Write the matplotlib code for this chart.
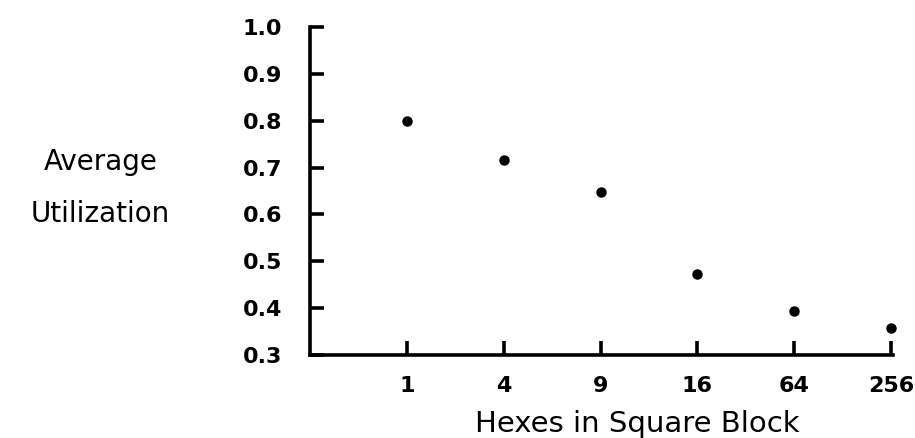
import matplotlib
matplotlib.use("Agg")
from matplotlib import pyplot as plt

# данные с графика
block_sizes = ["1", "4", "9", "16", "64", "256"]
utilization = [0.80, 0.717, 0.647, 0.473, 0.393, 0.357]
y_ticks = [0.3, 0.4, 0.5, 0.6, 0.7, 0.8, 0.9, 1.0]

plt.rcParams['font.family'] = ['DejaVu Sans']

fig = plt.figure(figsize=(9.15, 4.38), dpi=100, facecolor='white')
ax = fig.add_axes([0.339, 0.19, 0.637, 0.748])

positions = list(range(1, len(block_sizes) + 1))
ax.plot(positions, utilization, 'o', color='black', markersize=6.5, clip_on=False)

ax.set_xlim(0, 6.02)
ax.set_ylim(0.3, 1.0)
ax.set_xticks(positions)
ax.set_xticklabels(block_sizes, fontsize=16, fontweight='bold')
ax.set_yticks(y_ticks)
ax.set_yticklabels([f"{v:.1f}" for v in y_ticks], fontsize=16, fontweight='bold')

ax.spines['top'].set_visible(False)
ax.spines['right'].set_visible(False)
for s in ['left', 'bottom']:
    ax.spines[s].set_linewidth(2.6)
ax.tick_params(axis='both', direction='in', length=10, width=2.6)
ax.tick_params(axis='x', pad=15)
ax.tick_params(axis='y', pad=20)

# подписи осей
fig.text(0.696, 0.0137, "Hexes in Square Block", fontsize=21, ha='center', va='baseline')
fig.text(0.110, 0.612, "Average", fontsize=20, ha='center', va='baseline')
fig.text(0.110, 0.493, "Utilization", fontsize=20, ha='center', va='baseline')

plt.savefig("out.png", dpi=100, facecolor='white')
